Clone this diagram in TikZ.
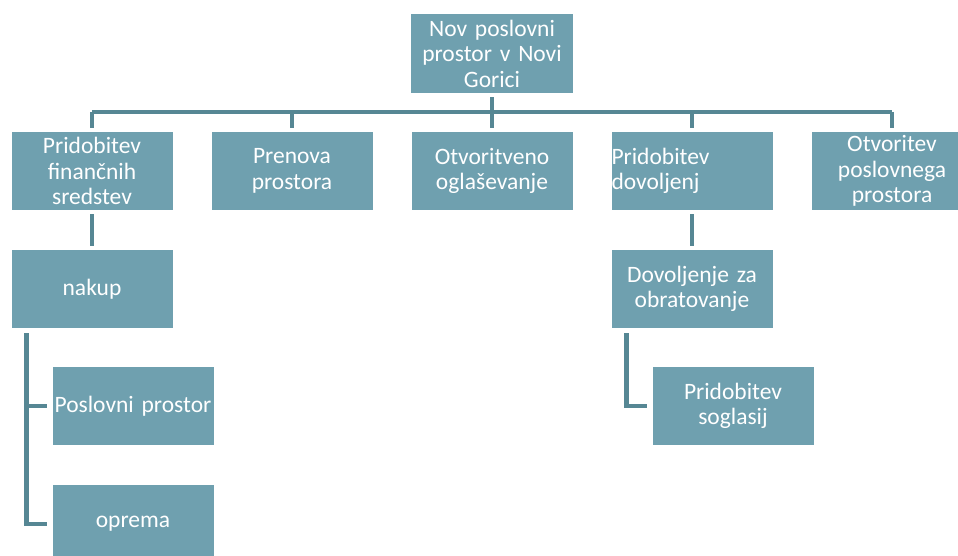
\documentclass[tikz,border=0pt]{standalone}
\usepackage{fontspec}
\setmainfont{Carlito}
\definecolor{boxfill}{RGB}{111,160,175}
\definecolor{linecol}{RGB}{86,135,148}
\begin{document}
\begin{tikzpicture}[x=1pt,y=-1pt,
  box/.style={rectangle, fill=boxfill, text=white, minimum width=161pt, minimum height=78pt,
    inner sep=0pt, text width=161pt, align=center, font=\fontsize{23.5}{25.5}\selectfont},
  conn/.style={draw=linecol, line width=4.5pt}]
\useasboundingbox (0,0) rectangle (958,556);
\begin{scope}
\clip (0,0) rectangle (958,556);
% root
\node[box, minimum width=162pt, minimum height=79pt] (root) at (492,53.5) {Nov poslovni\\prostor v Novi\\Gorici};
% first level
\node[box] (fin) at (92,171) {Pridobitev\\finančnih\\sredstev};
\node[box] (pren) at (292,171) {Prenova\\prostora};
\node[box] (ogl) at (492,171) {Otvoritveno\\oglaševanje};
\node[box, align=left] (dovol) at (692,171) {Pridobitev\\dovoljenj};
\node[box] (otv) at (892,171) {Otvoritev\\poslovnega\\prostora};
% second level
\node[box] (nakup) at (92,289) {nakup};
\node[box] (obrat) at (692,289) {Dovoljenje za\\obratovanje};
% third level
\node[box] (posl) at (133,406) {Poslovni prostor};
\node[box] (oprema) at (133,524) {oprema};
\node[box] (sogl) at (733,406) {Pridobitev\\soglasij};
% connectors
\coordinate (bus) at (492,112);
\draw[conn, shorten <=4pt] (root) -- (bus);
\draw[conn] (bus -| fin) -- (bus -| otv);
\foreach \n in {fin,pren,ogl,dovol,otv}
  \draw[conn, shorten >=4pt] (bus -| \n) -- (\n);
\draw[conn, shorten <=4pt, shorten >=4pt] (fin) -- (nakup);
\draw[conn, shorten <=4pt, shorten >=4pt] (dovol) -- (obrat);
\draw[conn, shorten <=5pt, shorten >=5pt] ([xshift=15pt]nakup.south west) |- (posl.west);
\draw[conn, shorten <=5pt, shorten >=5pt] ([xshift=15pt]nakup.south west) |- (oprema.west);
\draw[conn, shorten <=5pt, shorten >=5pt] ([xshift=15pt]obrat.south west) |- (sogl.west);
\end{scope}
\end{tikzpicture}
\end{document}
